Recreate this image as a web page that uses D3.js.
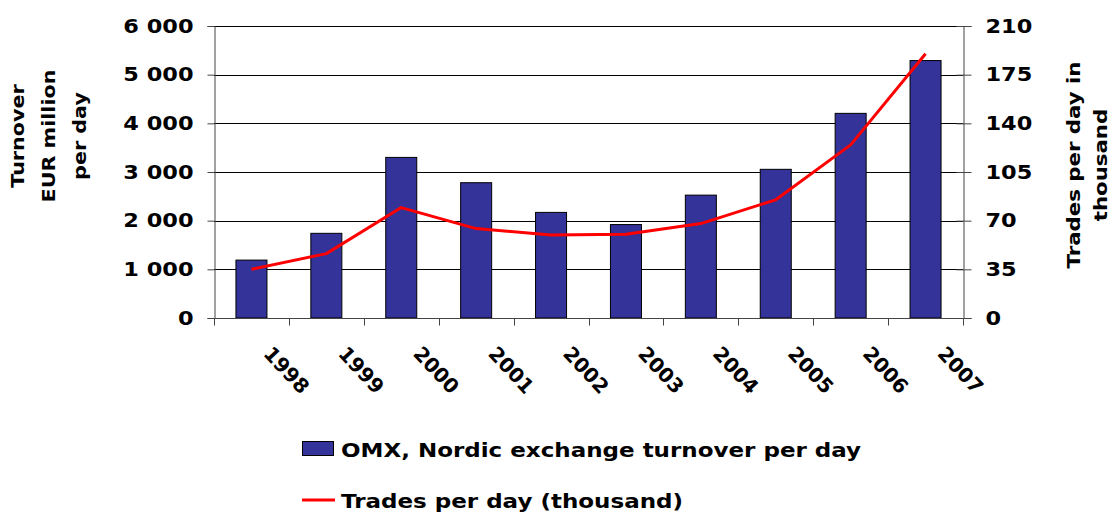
<!DOCTYPE html>
<html><head><meta charset="utf-8">
<script src="https://cdn.jsdelivr.net/npm/d3@7"></script>
<style>
html,body{margin:0;padding:0;background:#fff;}
text{font-family:"DejaVu Sans",Verdana,sans-serif;font-weight:bold;fill:#000;}
</style></head>
<body>
<svg id="chart" width="1112" height="512"></svg>
<script>
const years = ["1998","1999","2000","2001","2002","2003","2004","2005","2006","2007"];
const turnover = [1190, 1740, 3300, 2780, 2170, 1920, 2525, 3055, 4205, 5290];
const trades = [35, 46.3, 79.4, 64.3, 59.7, 60.2, 67.9, 85, 124.5, 190];
const leftTicks = [0, 1000, 2000, 3000, 4000, 5000, 6000];
const rightTicks = [0, 35, 70, 105, 140, 175, 210];
const leftTitle = ["Turnover", "EUR million", "per day"];
const rightTitle = ["Trades per day in", "thousand"];
const legendLabels = ["OMX, Nordic exchange turnover per day", "Trades per day (thousand)"];

const SX = 1.15; // horizontal stretch of text in the original
const W = 1112, H = 512;
const m = {left: 214, right: 149, top: 26, bottom: 194};
const svg = d3.select("#chart");
const x = d3.scaleBand().domain(years).range([m.left, W - m.right]).padding(0);
const yL = d3.scaleLinear().domain([0, 6000]).range([H - m.bottom, m.top]);
const yR = d3.scaleLinear().domain([0, 210]).range([H - m.bottom, m.top]);
const fmt = d3.formatLocale({decimal: ".", thousands: " ", grouping: [3], currency: ["", ""]}).format(",d");

// gridlines
svg.append("g").selectAll("line").data(leftTicks.filter(d => d > 0)).join("line")
  .attr("x1", m.left).attr("x2", W - m.right)
  .attr("y1", d => Math.round(yL(d)) + 0.5).attr("y2", d => Math.round(yL(d)) + 0.5)
  .attr("stroke", "#000").attr("stroke-width", 1);

// bars
const bw = x.bandwidth() * 0.414;
svg.append("g").selectAll("rect").data(years).join("rect")
  .attr("x", (d) => x(d) + x.bandwidth() / 2 - bw / 2)
  .attr("y", (d, i) => yL(turnover[i]))
  .attr("width", bw)
  .attr("height", (d, i) => yL(0) - yL(turnover[i]))
  .attr("fill", "#333399").attr("stroke", "#000").attr("stroke-width", 1);

// left axis
const gL = svg.append("g").attr("transform", `translate(${m.left + 0.5},0)`)
  .call(d3.axisLeft(yL).tickValues(leftTicks).tickFormat(fmt).tickSize(7).tickPadding(14));
gL.select(".domain").attr("stroke", "#444");
gL.selectAll(".tick line").attr("stroke", "#444");
gL.selectAll(".tick text").attr("font-size", 19.5).attr("font-family", null)
  .attr("transform", `scale(${SX},1)`).attr("x", -21 / SX);

// right axis
const gR = svg.append("g").attr("transform", `translate(${W - m.right + 0.5},0)`)
  .call(d3.axisRight(yR).tickValues(rightTicks).tickSize(8).tickPadding(14));
gR.select(".domain").attr("stroke", "#444");
gR.selectAll(".tick line").attr("stroke", "#444").attr("x1", -7);
gR.selectAll(".tick text").attr("font-size", 19.5).attr("font-family", null)
  .attr("transform", `scale(${SX},1)`).attr("x", 22 / SX);

// bottom axis
const gB = svg.append("g").attr("transform", `translate(0,${H - m.bottom + 0.5})`);
gB.append("line").attr("x1", m.left).attr("x2", W - m.right).attr("stroke", "#444");
const bounds = years.map(d => x(d)).concat([x.range()[1]]);
gB.selectAll("line.tk").data(bounds).join("line").attr("class", "tk")
  .attr("x1", d => Math.round(d) + 0.5).attr("x2", d => Math.round(d) + 0.5)
  .attr("y1", 0).attr("y2", 7).attr("stroke", "#444");
gB.selectAll("text").data(years).join("text")
  .attr("transform", d => `translate(${x(d) + x.bandwidth() / 2 + 11},36) rotate(47)`)
  .attr("font-size", 20).text(d => d);

// line
const line = d3.line().x((d, i) => x(years[i]) + x.bandwidth() / 2).y(d => yR(d));
svg.append("path").datum(trades).attr("d", line)
  .attr("fill", "none").attr("stroke", "#ff0000").attr("stroke-width", 3).attr("stroke-linejoin", "round");

// axis titles
const lt = svg.append("text").attr("text-anchor", "middle").attr("font-size", 18);
leftTitle.forEach((t, i) => lt.append("tspan").attr("x", 0).attr("y", 24 + i * 31).text(t));
lt.attr("transform", `translate(0,136) scale(1,${SX}) rotate(-90)`);

const rt = svg.append("text").attr("text-anchor", "middle").attr("font-size", 18.5);
rightTitle.forEach((t, i) => rt.append("tspan").attr("x", 0).attr("y", 1080 + i * 27.5).text(t));
rt.attr("transform", `translate(0,165) scale(1,${SX}) rotate(-90)`);

// legend
const lg = svg.append("g");
lg.append("rect").attr("x", 302.5).attr("y", 441.5).attr("width", 31).attr("height", 14)
  .attr("fill", "#333399").attr("stroke", "#000").attr("stroke-width", 1);
lg.append("text").attr("transform", `translate(341,457) scale(${SX},1)`).attr("font-size", 20).text(legendLabels[0]);
lg.append("line").attr("x1", 302).attr("x2", 335).attr("y1", 500).attr("y2", 500)
  .attr("stroke", "#ff0000").attr("stroke-width", 3);
lg.append("text").attr("transform", `translate(341,508) scale(${SX},1)`).attr("font-size", 20).text(legendLabels[1]);
</script>
</body></html>
